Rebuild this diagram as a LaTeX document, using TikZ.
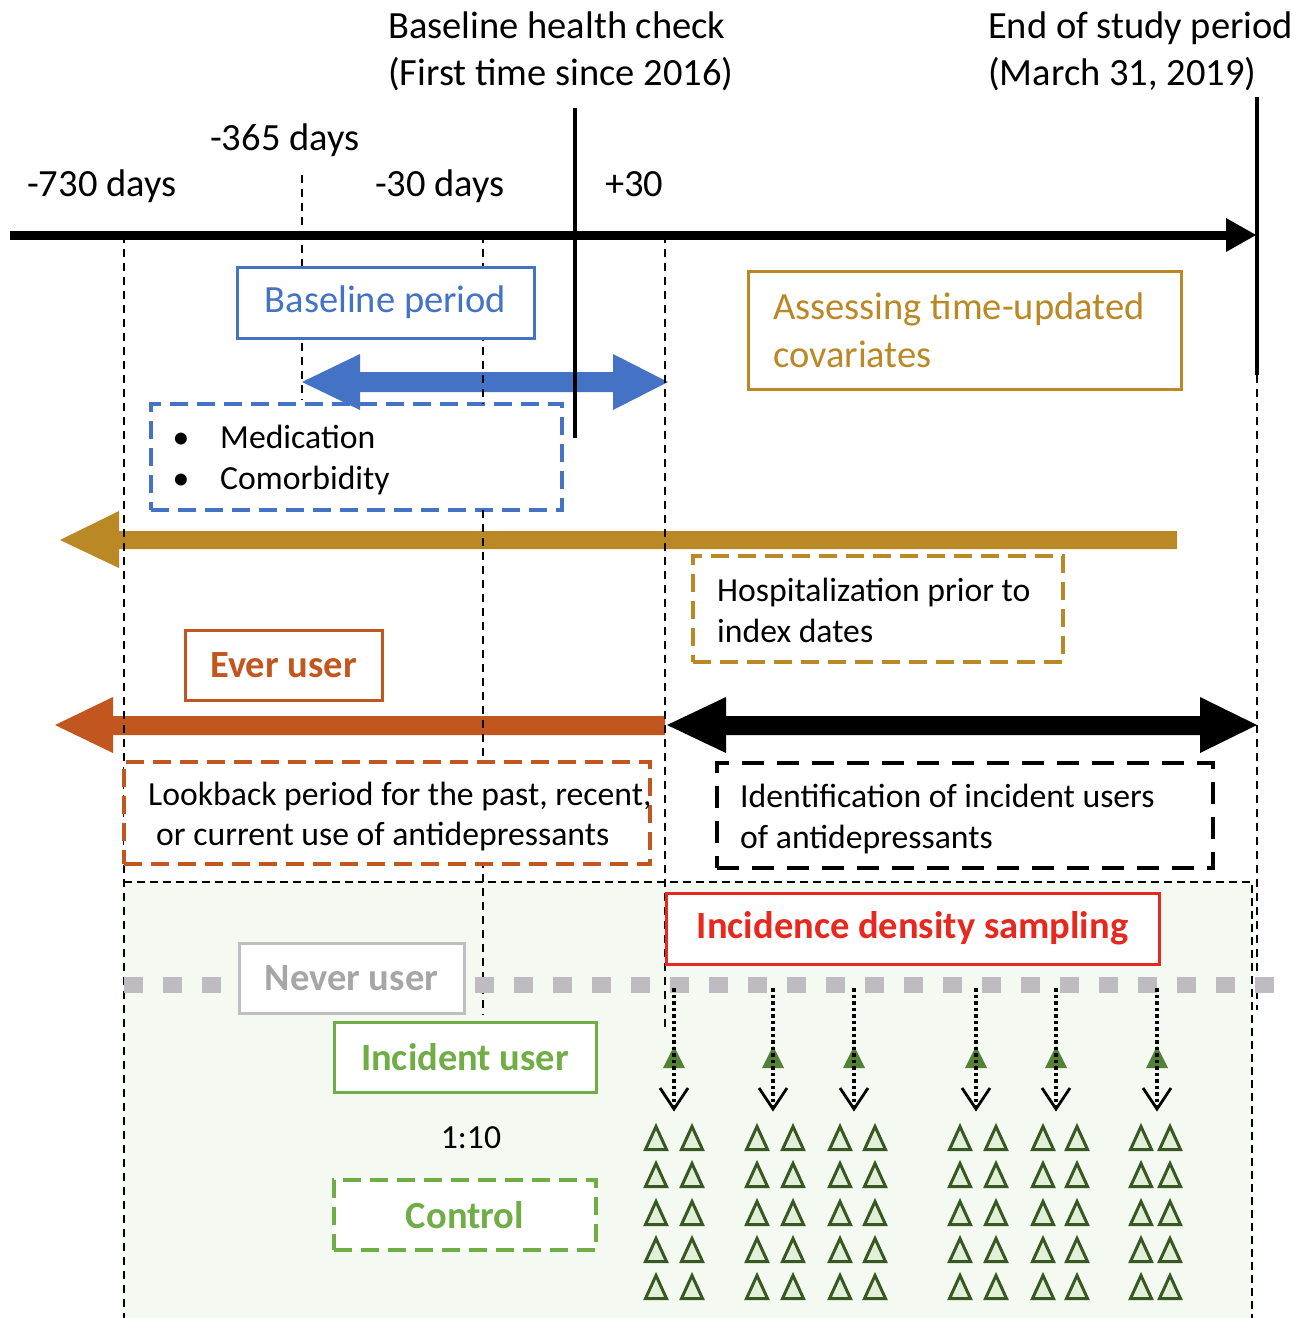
\documentclass[tikz,border=0pt]{standalone}
\usepackage{fontspec}
\setmainfont{Carlito}
\definecolor{cblue}{RGB}{68,114,196}
\definecolor{cgold}{RGB}{186,136,36}
\definecolor{corange}{RGB}{193,87,30}
\definecolor{cred}{RGB}{230,40,30}
\definecolor{cgreen}{RGB}{112,173,71}
\definecolor{cgreybox}{RGB}{191,191,191}
\definecolor{cgreytext}{RGB}{166,166,166}
\definecolor{cdots}{RGB}{190,188,192}
\definecolor{cdkgreen}{RGB}{56,87,35}
\definecolor{cltgreen}{RGB}{226,240,217}
\definecolor{cmidgreen}{RGB}{84,130,53}
\definecolor{cbg}{RGB}{244,249,241}
\begin{document}
\begin{tikzpicture}[x=1pt,y=-1pt,
  big/.style={font=\fontsize{38.5}{47}\selectfont},
  bigb/.style={font=\fontsize{38.5}{47}\selectfont\bfseries},
  small/.style={font=\fontsize{33.7}{41}\selectfont},
  lbl/.style={anchor=base west, inner sep=0},
  sbox/.style={draw, line width=3, fill=white, inner sep=0},
  dbox/.style={sbox, line width=3.2, dash pattern=on 18 off 9},
  vdash/.style={black, line width=1.7, dash pattern=on 8 off 6},
  tri/.style={draw=cdkgreen, fill=cltgreen, line width=3, line join=miter},
  dotline/.style={black, line width=3.2, dash pattern=on 3.5 off 3},
]
\useasboundingbox (0,0) rectangle (1307,1318);

% background region
\fill[cbg] (124,882) rectangle (1252,1318);
\draw[black, line width=1.2, dash pattern=on 8 off 5] (124,882) -- (1252,882) -- (1252,1318);

% medication box (under blue arrow)
\node[dbox, draw=cblue, minimum width=411, minimum height=106] (med) at (356.5,457) {};
\node[small, anchor=base, inner sep=0] (b1) at (181,448) {•};
\node[small, lbl] (med1) at (220,448) {Medication};
\node[small, anchor=base, inner sep=0] (b2) at (181,489) {•};
\node[small, lbl] (med2) at (220,489) {Comorbidity};

% fat arrows
\fill[cblue] (302,382) -- (360,354) -- (360,372) -- (613,372) -- (613,354) -- (668,382)
  -- (613,410) -- (613,392) -- (360,392) -- (360,410) -- cycle;
\fill[cgold] (60,540) -- (119,511) -- (119,531) -- (1177,531) -- (1177,549) -- (119,549) -- (119,568) -- cycle;
\fill[corange] (55,725) -- (113,697) -- (113,716) -- (665,716) -- (665,735) -- (113,735) -- (113,753) -- cycle;
\fill[black] (667,725) -- (726,697) -- (726,716) -- (1200,716) -- (1200,697) -- (1257,725)
  -- (1200,753) -- (1200,735) -- (726,735) -- (726,753) -- cycle;

% dashed vertical guides
\draw[vdash] (124,235) -- (124,1318);
\draw[vdash] (302,175) -- (302,400);
\draw[vdash] (483,235) -- (483,404) (483,510) -- (483,1015);
\draw[vdash] (665,235) -- (665,1031);
\draw[vdash] (1257,375) -- (1257,1010);

% time axis
\draw[line width=9] (10,235) -- (1232,235);
\fill (1226,218) -- (1256,235) -- (1226,252) -- cycle;
\draw[line width=4] (575,108) -- (575,438);
\draw[line width=4] (1257,97) -- (1257,375);

% top labels
\node[big, lbl] (bhc1) at (388,38) {Baseline health check};
\node[big, lbl] (bhc2) at (388,85) {(First time since 2016)};
\node[big, lbl] (end1) at (988,38) {End of study period};
\node[big, lbl] (end2) at (988,85) {(March 31, 2019)};
\node[big, lbl] (d365) at (210,150) {-365 days};
\node[big, lbl] (d730) at (27,196) {-730 days};
\node[big, lbl] (d30) at (375,196) {-30 days};
\node[big, lbl] (p30) at (605,196) {+30};

% boxes
\node[sbox, draw=cblue, text=cblue, big, minimum width=297, minimum height=71] (bp) at (385.5,302.5) {Baseline period};
\node[sbox, draw=cgold, minimum width=433, minimum height=118] (atc) at (964.5,330) {};
\node[big, lbl, text=cgold] (atc1) at (773,319) {Assessing time-updated};
\node[big, lbl, text=cgold] (atc2) at (773,367) {covariates};

\node[dbox, draw=cgold, minimum width=370, minimum height=106] (hosp) at (878,609) {};
\node[small, lbl] (hosp1) at (717,601) {Hospitalization prior to};
\node[small, lbl] (hosp2) at (717,642) {index dates};

\node[sbox, draw=corange, text=corange, bigb, minimum width=197, minimum height=70] (ever) at (283.5,665) {Ever user};

\node[dbox, draw=corange, minimum width=526, minimum height=102] (look) at (387,813) {};
\node[small, lbl] (look1) at (148,805) {Lookback period for the past, recent,};
\node[small, lbl] (look2) at (156,845) {or current use of antidepressants};

\node[sbox, draw=black, line width=3.6, dash pattern=on 22 off 13, minimum width=496, minimum height=105] (ident) at (965,815.5) {};
\node[small, lbl] (ident1) at (740,807) {Identification of incident users};
\node[small, lbl] (ident2) at (740,848) {of antidepressants};

\node[sbox, draw=cred, text=cred, bigb, minimum width=493, minimum height=71] (ids) at (912.5,928.5) {Incidence density sampling};

% never-user dotted line
\draw[cdots, line width=16, dash pattern=on 19 off 20] (124,985) -- (1290,985);
\node[sbox, draw=cgreybox, text=cgreytext, bigb, minimum width=225, minimum height=70] (never) at (351.5,978) {Never user};

\node[sbox, draw=cgreen, text=cgreen, bigb, minimum width=262, minimum height=70] (inc) at (465,1057) {Incident user};
\node[small, anchor=base, inner sep=0] (ratio) at (471,1148) {1:10};
\node[dbox, draw=cgreen, text=cgreen, bigb, minimum width=262, minimum height=70] (ctrl) at (465,1215) {Control};

% sampled cases
\foreach \x [count=\i] in {674,773,854,976,1056,1157}{
  \fill[cmidgreen] (\x-11,1068) -- (\x+11,1068) -- (\x,1046) -- cycle;
  \coordinate (s\i) at (\x,988);
  \coordinate (e\i) at (\x,1109);
  \draw[dotline] (s\i) -- (e\i);
  \draw[black, line width=2.8, line join=miter] (\x-14,1088) -- (e\i) -- (\x+14,1088);
}
% controls
\foreach \cx in {656,692,757,793,840,875,960,996,1043,1077,1141,1170}{
  \foreach \cy in {1138,1175,1213,1250,1287}{
    \draw[tri] (\cx-10.5,\cy+11.5) -- (\cx+10.5,\cy+11.5) -- (\cx,\cy-11.5) -- cycle;
  }
}
\end{tikzpicture}
\end{document}
